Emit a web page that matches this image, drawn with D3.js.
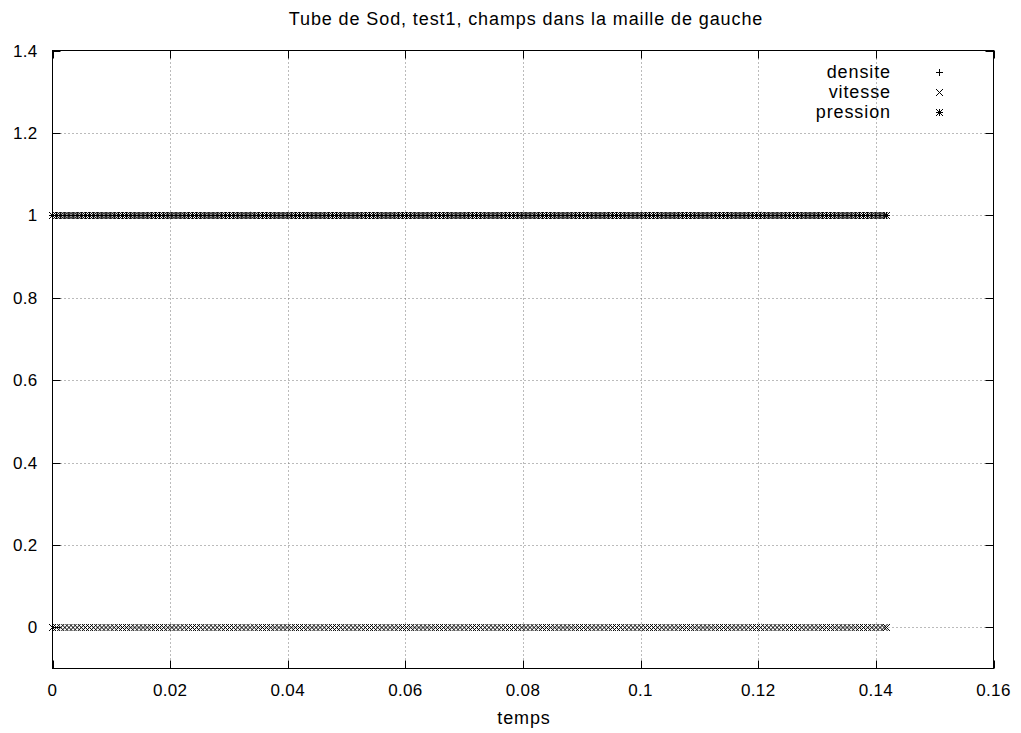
<!DOCTYPE html>
<html><head><meta charset="utf-8">
<script src="https://cdn.jsdelivr.net/npm/d3@7"></script>
<style>
body{margin:0;background:#fff;}
text{font-family:"Liberation Sans",Arial,sans-serif;fill:#000;}
</style></head>
<body><svg id="c" width="1021" height="733"></svg>
<script>
const title = "Tube de Sod, test1, champs dans la maille de gauche";
const xLabel = "temps";
const xTicks = [0,0.02,0.04,0.06,0.08,0.1,0.12,0.14,0.16];
const yTicks = [0,0.2,0.4,0.6,0.8,1,1.2,1.4];
const seriesNames = ["densite","vitesse","pression"];
const temps = [0,0.0007,0.0014,0.0021,0.0028,0.0035,0.0042,0.0049,0.0056,0.0063,
0.0070,0.0077,0.0084,0.0091,0.0098,0.0105,0.0112,0.0119,0.0126,0.0133,
0.0140,0.0147,0.0154,0.0161,0.0168,0.0175,0.0182,0.0189,0.0196,0.0203,
0.0210,0.0217,0.0224,0.0231,0.0238,0.0245,0.0252,0.0259,0.0266,0.0273,
0.0280,0.0287,0.0294,0.0301,0.0308,0.0315,0.0322,0.0329,0.0336,0.0343,
0.0350,0.0357,0.0364,0.0371,0.0378,0.0385,0.0392,0.0399,0.0406,0.0413,
0.0420,0.0427,0.0434,0.0441,0.0448,0.0455,0.0462,0.0469,0.0476,0.0483,
0.0490,0.0497,0.0504,0.0511,0.0518,0.0525,0.0532,0.0539,0.0546,0.0553,
0.0560,0.0567,0.0574,0.0581,0.0588,0.0595,0.0602,0.0609,0.0616,0.0623,
0.0630,0.0637,0.0644,0.0651,0.0658,0.0665,0.0672,0.0679,0.0686,0.0693,
0.0700,0.0707,0.0714,0.0721,0.0728,0.0735,0.0742,0.0749,0.0756,0.0763,
0.0770,0.0777,0.0784,0.0791,0.0798,0.0805,0.0812,0.0819,0.0826,0.0833,
0.0840,0.0847,0.0854,0.0861,0.0868,0.0875,0.0882,0.0889,0.0896,0.0903,
0.0910,0.0917,0.0924,0.0931,0.0938,0.0945,0.0952,0.0959,0.0966,0.0973,
0.0980,0.0987,0.0994,0.1001,0.1008,0.1015,0.1022,0.1029,0.1036,0.1043,
0.1050,0.1057,0.1064,0.1071,0.1078,0.1085,0.1092,0.1099,0.1106,0.1113,
0.1120,0.1127,0.1134,0.1141,0.1148,0.1155,0.1162,0.1169,0.1176,0.1183,
0.1190,0.1197,0.1204,0.1211,0.1218,0.1225,0.1232,0.1239,0.1246,0.1253,
0.1260,0.1267,0.1274,0.1281,0.1288,0.1295,0.1302,0.1309,0.1316,0.1323,
0.1330,0.1337,0.1344,0.1351,0.1358,0.1365,0.1372,0.1379,0.1386,0.1393,
0.1400,0.1407,0.1414,0.1418];
const densite = temps.map(() => 1);
const vitesse = temps.map(() => 0);
const pression = temps.map(() => 1);

const svg = d3.select("#c");
const L = 52.5, R = 993.5, T = 50.5, B = 668.5;
const x = d3.scaleLinear().domain([0,0.16]).range([L,R]);
const y = d3.scaleLinear().domain([-0.1,1.4]).range([B,T]);

// grid
const g = svg.append("g");
xTicks.forEach(v => {
  if (v > 0 && v < 0.16) g.append("line").attr("x1",Math.round(x(v))+0.5).attr("x2",Math.round(x(v))+0.5)
    .attr("y1",T).attr("y2",B).attr("stroke","#777").attr("stroke-dasharray","1,3");
});
yTicks.forEach(v => {
  if (v < 1.4) g.append("line").attr("y1",Math.round(y(v))+0.5).attr("y2",Math.round(y(v))+0.5)
    .attr("x1",L).attr("x2",R).attr("stroke","#777").attr("stroke-dasharray","1,3");
});

// ticks (inward, mirrored)
const tk = svg.append("g").attr("stroke","#000");
xTicks.forEach(v => {
  const px = Math.round(x(v))+0.5;
  tk.append("line").attr("x1",px).attr("x2",px).attr("y1",B).attr("y2",B-8);
  tk.append("line").attr("x1",px).attr("x2",px).attr("y1",T).attr("y2",T+8);
});
yTicks.forEach(v => {
  const py = Math.round(y(v))+0.5;
  tk.append("line").attr("y1",py).attr("y2",py).attr("x1",L).attr("x2",L+8);
  tk.append("line").attr("y1",py).attr("y2",py).attr("x1",R).attr("x2",R-8);
});

// border
svg.append("rect").attr("x",L).attr("y",T).attr("width",R-L).attr("height",B-T)
  .attr("fill","none").attr("stroke","#000");

// tick labels
const fmt = v => String(+v.toFixed(2));
xTicks.forEach(v => {
  svg.append("text").attr("x",x(v)).attr("y",B+27).attr("text-anchor","middle")
    .attr("font-size",17).attr("letter-spacing","0.3px").text(fmt(v));
});
yTicks.forEach(v => {
  svg.append("text").attr("x",L-15).attr("y",y(v)+6).attr("text-anchor","end")
    .attr("font-size",17).attr("letter-spacing","0.3px").text(fmt(v));
});
svg.append("text").attr("x",(L+R)/2+3).attr("y",25).attr("text-anchor","middle").attr("font-size",18)
  .attr("letter-spacing","0.9px").text(title);
svg.append("text").attr("x",(L+R)/2+1).attr("y",724).attr("text-anchor","middle").attr("font-size",18)
  .attr("letter-spacing","0.9px").text(xLabel);

// markers
const s = 3.5;
function plus(sel, cx, cy){ sel.append("path").attr("d",`M${cx-s},${cy}H${cx+s}M${cx},${cy-s}V${cy+s}`); }
function cross(sel, cx, cy){ sel.append("path").attr("d",`M${cx-s},${cy-s}L${cx+s},${cy+s}M${cx-s},${cy+s}L${cx+s},${cy-s}`); }
function star(sel, cx, cy){ plus(sel,cx,cy); cross(sel,cx,cy); }
const drawers = [plus, cross, star];
const series = [densite, vitesse, pression];
const mk = svg.append("g").attr("stroke","#000").attr("stroke-width",1).attr("fill","none");
series.forEach((vals,i) => {
  temps.forEach((t,j) => drawers[i](mk, x(t), Math.round(y(vals[j]))+0.5));
});

// legend
seriesNames.forEach((n,i) => {
  const ly = 72 + i*20;
  svg.append("text").attr("x",891).attr("y",ly+6).attr("text-anchor","end").attr("font-size",18)
    .attr("letter-spacing","0.9px").text(n);
  drawers[i](mk, 939.5, ly+0.5);
});
</script></body></html>
